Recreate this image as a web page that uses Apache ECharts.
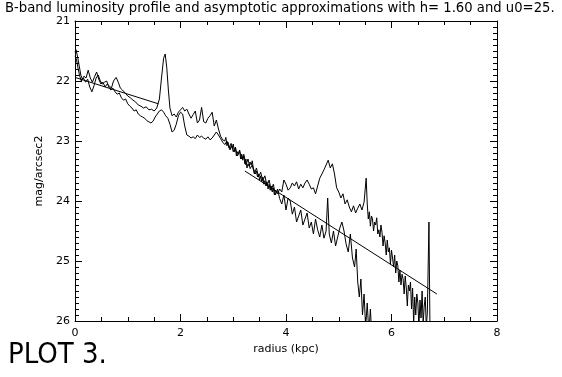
<!DOCTYPE html>
<html>
<head>
<meta charset="utf-8">
<title>PLOT 3.</title>
<script src="https://cdn.jsdelivr.net/npm/echarts@6/dist/echarts.min.js"></script>
<style>
  html, body { margin: 0; padding: 0; background: #fff; }
  #chart { width: 562px; height: 377px; }
</style>
</head>
<body>
<div id="chart"></div>
<script>
// profile A (upper curve at large radius, with the spike near 1.7 kpc)
var radiusA = [0.00,0.02,0.05,0.08,0.11,0.14,0.17,0.21,0.25,0.29,0.33,0.37,0.41,0.45,0.49,0.53,0.57,0.61,0.65,0.69,
  0.73,0.78,0.82,0.86,0.90,0.95,1.00,1.05,1.10,1.15,1.20,1.25,1.30,1.35,1.40,1.45,1.50,1.55,1.60,1.64,
  1.68,1.71,1.74,1.77,1.80,1.84,1.88,1.92,1.96,2.00,2.04,2.08,2.12,2.16,2.20,2.24,2.28,2.32,2.36,2.40,
  2.44,2.48,2.52,2.56,2.60,2.64,2.68,2.72,2.76,2.80,
  2.84,2.86,2.88,2.90,2.92,2.94,2.96,2.98,3.00,3.02,3.04,3.06,3.08,3.10,3.12,3.14,3.16,3.18,3.20,3.22,
  3.24,3.26,3.28,3.30,3.32,3.34,3.36,3.38,3.40,3.42,3.44,3.46,3.48,3.50,3.52,3.54,3.56,3.58,3.60,3.62,
  3.64,3.66,3.68,3.70,3.72,3.74,3.76,3.78,3.80,3.84,3.88,3.92,3.96,4.00,
  4.04,4.08,4.12,4.16,4.20,4.24,4.28,4.32,4.36,4.40,4.44,4.48,4.52,4.56,4.60,4.64,4.68,4.72,4.76,4.80,
  4.84,4.88,4.92,4.96,5.00,5.04,5.08,5.12,5.16,5.20,5.24,5.28,5.32,5.36,5.40,5.44,5.48,5.52,5.54,5.56,
  5.58,5.60,5.62,5.64,5.66,5.68,5.70,5.72,5.74,5.76,5.78,5.80,5.82,5.84,5.86,5.88,5.90,5.92,5.94,5.96,
  5.98,6.00,6.02,6.04,6.06,6.08,6.10,6.12,6.14,6.16,6.18,6.20,6.22,6.24,6.26,6.28,6.30,6.32,6.34,6.36,
  6.38,6.40,6.42,6.44,6.46,6.48,6.50,6.52,6.54,6.56,6.58,6.60,6.62,6.64,6.66,6.68,6.71,6.73,6.75];
var magA = [21.52,21.48,21.60,21.75,21.90,21.97,21.92,21.95,21.82,21.95,22.02,21.93,21.85,21.97,22.05,22.02,22.10,22.05,22.08,22.12,
  22.00,21.94,22.02,22.12,22.15,22.20,22.25,22.28,22.32,22.35,22.40,22.42,22.45,22.43,22.48,22.47,22.50,22.45,22.30,21.95,
  21.62,21.55,21.78,22.15,22.45,22.58,22.55,22.60,22.52,22.48,22.44,22.50,22.47,22.55,22.62,22.56,22.50,22.70,22.65,22.44,
  22.68,22.70,22.62,22.58,22.52,22.75,22.65,22.80,22.92,22.98,
  23.00,22.94,23.08,23.02,23.05,23.15,23.08,23.12,23.05,23.18,23.12,23.25,23.18,23.22,23.15,23.30,23.22,23.32,23.25,23.38,
  23.30,23.45,23.38,23.42,23.35,23.40,23.33,23.45,23.48,23.55,23.50,23.60,23.55,23.65,23.58,23.68,23.60,23.72,23.66,23.75,
  23.68,23.80,23.72,23.82,23.75,23.85,23.78,23.90,23.82,23.88,23.80,23.85,23.65,23.72,
  23.82,23.78,23.70,23.75,23.68,23.80,23.72,23.78,23.70,23.65,23.72,23.80,23.78,23.88,23.75,23.62,23.55,23.48,23.40,23.32,
  23.45,23.38,23.55,23.78,23.85,23.95,23.88,24.05,23.98,24.10,24.18,24.08,24.20,24.12,24.05,24.15,24.02,23.62,24.05,24.30,
  24.18,24.42,24.25,24.30,24.50,24.35,24.40,24.28,24.55,24.48,24.60,24.40,24.52,24.75,24.58,24.70,24.90,24.65,24.85,24.78,
  25.05,24.82,24.95,25.10,24.90,25.20,25.00,25.08,25.35,25.15,25.40,25.22,25.30,25.55,25.25,25.45,25.75,25.40,25.50,25.35,
  25.80,25.45,26.05,25.60,25.90,25.55,25.70,26.10,25.65,25.95,25.50,26.05,25.75,25.60,26.10,25.85,24.35,26.20,26.40];

// profile B (lower curve at large radius, drops out below 26)
var radiusB = [0.00,0.03,0.06,0.09,0.12,0.16,0.20,0.24,0.28,0.32,0.36,0.40,0.44,0.48,0.52,0.56,0.60,0.64,0.68,0.72,
  0.76,0.80,0.84,0.88,0.92,0.96,1.00,1.04,1.08,1.12,1.16,1.20,1.24,1.28,1.32,1.36,1.40,1.44,1.48,1.52,
  1.56,1.60,1.64,1.68,1.72,1.76,1.80,1.84,1.88,1.92,1.96,2.00,2.04,2.08,2.12,2.16,2.20,2.24,2.28,2.32,
  2.36,2.40,2.44,2.48,2.52,2.56,2.60,2.64,2.68,2.72,2.76,2.80,2.84,2.88,2.92,2.96,3.00,3.04,3.08,3.12,
  3.16,3.20,3.24,3.28,3.32,3.36,3.40,3.44,3.48,3.52,3.56,3.60,3.64,3.68,3.72,3.76,3.80,3.84,3.88,3.92,
  3.96,4.00,4.04,4.08,4.12,4.16,4.20,4.24,4.28,4.32,4.36,4.40,4.44,4.48,4.52,4.56,4.60,4.64,4.68,4.72,
  4.76,4.79,4.82,4.86,4.90,4.94,4.98,5.02,5.06,5.10,5.14,5.18,5.22,5.26,5.30,5.33,5.36,5.39,5.42,5.45,
  5.48,5.51,5.54,5.57,5.60,5.63,5.68,5.80,6.20];
var magB = [21.58,21.65,21.80,21.92,22.00,21.95,22.02,21.97,22.10,22.18,22.08,21.95,21.90,22.00,22.05,22.02,22.00,22.10,22.15,22.12,
  22.18,22.22,22.20,22.28,22.32,22.30,22.38,22.42,22.45,22.50,22.48,22.55,22.58,22.60,22.62,22.66,22.68,22.70,22.67,22.60,
  22.55,22.50,22.48,22.52,22.58,22.62,22.72,22.85,22.82,22.72,22.58,22.52,22.55,22.75,22.90,22.92,22.95,22.93,22.96,22.90,
  22.94,22.92,22.95,22.97,22.93,22.98,22.95,22.90,22.85,22.90,22.96,23.02,23.06,23.00,23.12,23.04,23.18,23.10,23.25,23.16,
  23.30,23.22,23.40,23.30,23.46,23.40,23.55,23.45,23.60,23.52,23.66,23.58,23.75,23.65,23.82,23.72,23.90,23.80,23.96,24.05,
  23.90,24.15,23.95,24.00,24.22,24.10,24.35,24.25,24.15,24.40,24.30,24.20,24.45,24.35,24.55,24.30,24.48,24.60,24.40,24.62,
  24.50,23.95,24.55,24.70,24.50,24.75,24.60,24.45,24.35,24.50,24.72,24.85,24.55,24.95,25.10,24.80,25.35,25.60,25.30,25.90,
  25.55,26.10,25.70,26.20,25.80,26.30,26.60,27.00,27.20];

// asymptotic approximations (end points)
var fitInner = [[0.00, 21.94], [1.58, 22.38]];
var fitOuter = [[3.22, 23.50], [6.86, 25.55]];

var xTicks = [0, 2, 4, 6, 8];
var yTicks = [21, 22, 23, 24, 25, 26];

function pairs(xs, ys) {
  var out = [];
  for (var i = 0; i < xs.length; i++) out.push([xs[i], ys[i]]);
  return out;
}

var font = 'DejaVu Sans';
var black = '#000';

function xAxisOpt(pos, labels) {
  return {
    type: 'value', position: pos,
    min: xTicks[0], max: xTicks[xTicks.length - 1], interval: 2,
    name: labels ? 'radius (kpc)' : '',
    nameLocation: 'middle', nameGap: 22,
    nameTextStyle: { color: black, fontFamily: font, fontSize: 11 },
    axisLine: { show: true, onZero: false, lineStyle: { color: black, width: 1 } },
    axisTick: { show: true, inside: true, length: 7, lineStyle: { color: black } },
    minorTick: { show: true, splitNumber: 4, length: 4, lineStyle: { color: black } },
    axisLabel: { show: labels, color: black, fontFamily: font, fontSize: 11, margin: 7 },
    splitLine: { show: false }
  };
}

function yAxisOpt(pos, labels) {
  return {
    type: 'value', position: pos, inverse: true,
    min: yTicks[0], max: yTicks[yTicks.length - 1], interval: 1,
    name: labels ? 'mag/arcsec2' : '',
    nameLocation: 'middle', nameGap: 21, nameRotate: 90,
    nameTextStyle: { color: black, fontFamily: font, fontSize: 11 },
    axisLine: { show: true, onZero: false, lineStyle: { color: black, width: 1 } },
    axisTick: { show: true, inside: true, length: 7, lineStyle: { color: black } },
    minorTick: { show: true, splitNumber: 10, length: 4, lineStyle: { color: black } },
    axisLabel: { show: labels, color: black, fontFamily: font, fontSize: 11, margin: 5 },
    splitLine: { show: false }
  };
}

function lineSeries(name, data) {
  return {
    name: name, type: 'line', data: data,
    xAxisIndex: 0, yAxisIndex: 0,
    showSymbol: false, symbol: 'none', clip: true,
    lineStyle: { color: black, width: 1 },
    animation: false
  };
}

var chart = echarts.init(document.getElementById('chart'), null, { renderer: 'canvas' });
chart.setOption({
  backgroundColor: '#fff',
  animation: false,
  grid: { left: 75, right: 65, top: 21, bottom: 56 },
  graphic: [
    {
      type: 'text', left: 5, top: 2,
      style: {
        text: 'B-band luminosity profile and asymptotic approximations with h= 1.60 and u0=25.',
        fill: black, font: '13.2px "DejaVu Sans"'
      }
    },
    {
      type: 'text', left: 8, top: 341,
      style: {
        text: 'PLOT 3.',
        fill: black, font: '29px "Liberation Sans Narrow", "DejaVu Sans Condensed", sans-serif'
      }
    }
  ],
  xAxis: [xAxisOpt('bottom', true), xAxisOpt('top', false)],
  yAxis: [yAxisOpt('left', true), yAxisOpt('right', false)],
  series: [
    lineSeries('profile A', pairs(radiusA, magA)),
    lineSeries('profile B', pairs(radiusB, magB)),
    lineSeries('fit inner', fitInner),
    lineSeries('fit outer', fitOuter)
  ]
});
</script>
</body>
</html>
